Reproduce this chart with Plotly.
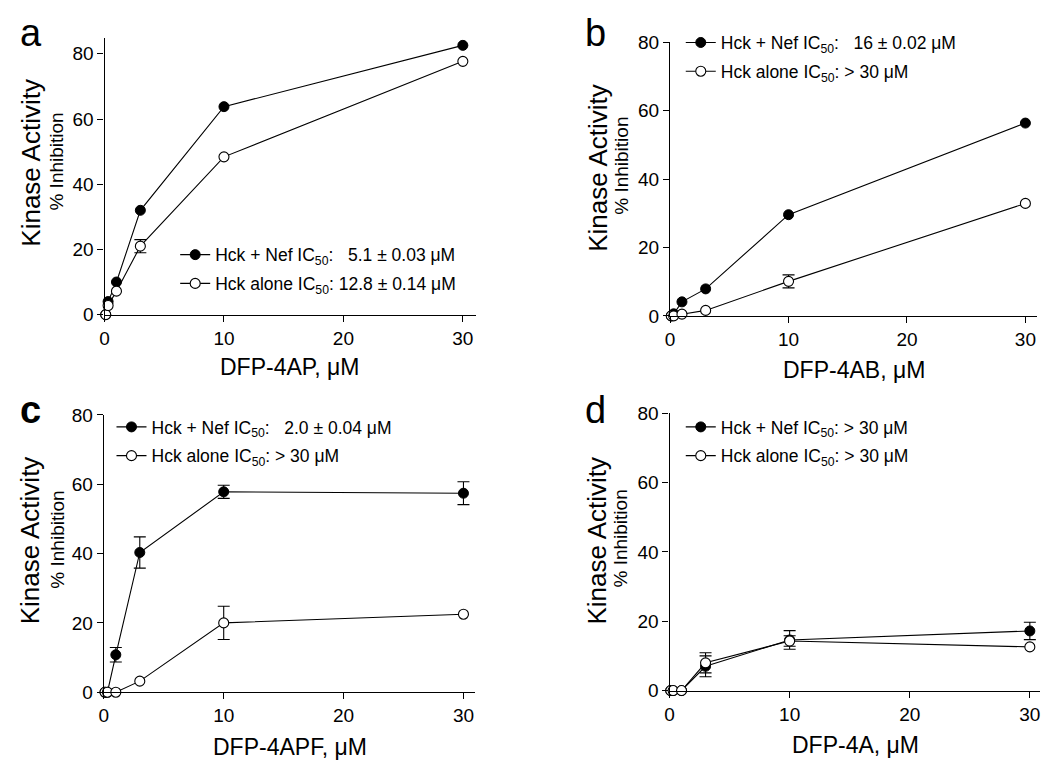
import plotly.graph_objects as go

# ---------------- data ----------------
conc = [0.1, 0.3, 1, 3, 10, 30]

nef_a = [0, 4.0, 10.0, 32.0, 63.8, 82.6]
nef_a_err = [0, 0, 0, 0, 0, 0]
alone_a = [0, 2.8, 7.2, 21.0, 48.4, 77.7]
alone_a_err = [0, 0, 0, 2.0, 0, 0]

nef_b = [0, 0.6, 4.1, 7.9, 29.6, 56.4]
nef_b_err = [0, 0, 0, 0, 0, 0]
alone_b = [0, 0, 0.5, 1.6, 10.1, 32.9]
alone_b_err = [0, 0, 0, 0, 1.9, 0]

nef_c = [0, 0, 10.8, 40.3, 57.8, 57.4]
nef_c_err = [0, 0, 2.1, 4.5, 1.9, 3.3]
alone_c = [0, 0, 0, 3.2, 20.0, 22.5]
alone_c_err = [0, 0, 0, 0, 4.8, 0]

nef_d = [0, 0, 0, 7.0, 14.6, 17.2]
nef_d_err = [0, 0, 0, 3.0, 2.7, 2.5]
alone_d = [0, 0, 0, 8.0, 14.3, 12.6]
alone_d_err = [0, 0, 0, 2.9, 1.5, 0]

letters = ["a", "b", "<b>c</b>", "d"]
x_titles = ["DFP-4AP, μM", "DFP-4AB, μM", "DFP-4APF, μM", "DFP-4A, μM"]
nb = "\u00a0"
nef_labels = [
    "Hck + Nef IC<sub>50</sub>:" + nb * 3 + "5.1 ± 0.03 μM",
    "Hck + Nef IC<sub>50</sub>:" + nb * 3 + "16 ± 0.02 μM",
    "Hck + Nef IC<sub>50</sub>:" + nb * 3 + "2.0 ± 0.04 μM",
    "Hck + Nef IC<sub>50</sub>: > 30 μM",
]
alone_labels = [
    "Hck alone IC<sub>50</sub>: 12.8 ± 0.14 μM",
    "Hck alone IC<sub>50</sub>: > 30 μM",
    "Hck alone IC<sub>50</sub>: > 30 μM",
    "Hck alone IC<sub>50</sub>: > 30 μM",
]
y_ticks = [0, 20, 40, 60, 80]
x_ticks = [0, 10, 20, 30]

nef = [nef_a, nef_b, nef_c, nef_d]
nef_err = [nef_a_err, nef_b_err, nef_c_err, nef_d_err]
alone = [alone_a, alone_b, alone_c, alone_d]
alone_err = [alone_a_err, alone_b_err, alone_c_err, alone_d_err]

# ---------------- layout geometry (pixels) ----------------
W, H = 1050, 784
FONT = "Liberation Sans, Arial, sans-serif"


def fx(px):
    return px / W


def fy(py):
    return 1 - py / H


# (left, right, bottom, top) in px, x max, y max
panels = [
    (100.0, 473.0, 313.0, 28.3, 31.08, 85),
    (668.3, 1036.7, 314.3, 33.3, 30.96, 80),
    (99.3, 472.7, 701.0, 416.0, 31.0, 80),
    (667.7, 1040.0, 699.3, 414.3, 30.85, 80),
]
# legend box anchor (left, top) in px
leg_pos = [(171, 233), (679, 15), (107, 410), (679, 410)]
letter_pos = [(26, 23.5), (593, 23.5), (26, 410.5), (593, 410.5)]
ytitle_pos = [((26, 157), (52, 156)), ((595, 162), (620, 160)),
              ((26, 545), (52.5, 544)), ((595, 545), (618, 543))]
xtitle_pos = [(286, 367), (853, 370), (286, 757), (855, 755)]

fig = go.Figure()
layout = dict(
    width=W, height=H, margin=dict(l=0, r=0, t=0, b=0),
    paper_bgcolor="white", plot_bgcolor="white",
    font=dict(family=FONT, color="black"),
    annotations=[],
)

for i in range(4):
    L, R, B, T, xmax, ymax = panels[i]
    sfx = "" if i == 0 else str(i + 1)
    xa, ya = "x" + sfx, "y" + sfx
    lg = "legend" + sfx

    # error bars (only where present), drawn beneath markers
    for ys, es in ((nef[i], nef_err[i]), (alone[i], alone_err[i])):
        idx = [k for k, e in enumerate(es) if e > 0]
        if idx:
            fig.add_trace(go.Scatter(
                x=[conc[k] for k in idx], y=[ys[k] for k in idx], mode="none",
                error_y=dict(type="data", array=[es[k] for k in idx], visible=True,
                             color="black", thickness=1.1, width=6),
                xaxis=xa, yaxis=ya, showlegend=False, cliponaxis=False,
                hoverinfo="skip",
            ))

    fig.add_trace(go.Scatter(
        x=conc, y=nef[i], mode="lines+markers", name=nef_labels[i],
        line=dict(color="black", width=1.1),
        marker=dict(symbol="circle", size=10, color="black",
                    line=dict(color="black", width=1)),
        xaxis=xa, yaxis=ya, legend=lg, legendgroup=f"n{i}", cliponaxis=False,
    ))
    fig.add_trace(go.Scatter(
        x=conc, y=alone[i], mode="lines+markers", name=alone_labels[i],
        line=dict(color="black", width=1.1),
        marker=dict(symbol="circle", size=10, color="white",
                    line=dict(color="black", width=1.1)),
        xaxis=xa, yaxis=ya, legend=lg, legendgroup=f"o{i}", cliponaxis=False,
    ))

    axis_common = dict(
        showline=True, linecolor="black", linewidth=1.3, showgrid=False,
        zeroline=False, ticks="outside", ticklen=6, tickwidth=1.2,
        tickcolor="black", tickfont=dict(size=19, family=FONT, color="black"),
    )
    layout["xaxis" + sfx] = dict(
        domain=[fx(L), fx(R)], range=[0, xmax], anchor=ya,
        tickmode="array", tickvals=x_ticks, **axis_common,
    )
    layout["yaxis" + sfx] = dict(
        domain=[fy(B), fy(T)], range=[0, ymax], anchor=xa,
        tickmode="array", tickvals=y_ticks, **axis_common,
    )

    gx, gy = leg_pos[i]
    layout[lg] = dict(
        x=fx(gx), y=fy(gy), xanchor="left", yanchor="top",
        xref="paper", yref="paper",
        bgcolor="rgba(0,0,0,0)", borderwidth=0,
        font=dict(size=17.5, family=FONT, color="black"),
        tracegroupgap=3, itemwidth=30,
    )

    lx, ly = letter_pos[i]
    layout["annotations"].append(dict(
        text=letters[i], x=fx(lx), y=fy(ly), xref="paper", yref="paper",
        xanchor="center", yanchor="middle", showarrow=False,
        font=dict(size=38, family=FONT, color="black"),
    ))
    (k1, k2) = ytitle_pos[i]
    layout["annotations"].append(dict(
        text="Kinase Activity", x=fx(k1[0]), y=fy(k1[1]), xref="paper", yref="paper",
        xanchor="center", yanchor="middle", showarrow=False, textangle=-90,
        font=dict(size=26, family=FONT, color="black"),
    ))
    layout["annotations"].append(dict(
        text="% Inhibition", x=fx(k2[0]), y=fy(k2[1]), xref="paper", yref="paper",
        xanchor="center", yanchor="middle", showarrow=False, textangle=-90,
        font=dict(size=19, family=FONT, color="black"),
    ))
    tx, ty = xtitle_pos[i]
    layout["annotations"].append(dict(
        text=x_titles[i], x=fx(tx), y=fy(ty), xref="paper", yref="paper",
        xanchor="center", yanchor="middle", showarrow=False,
        font=dict(size=23, family=FONT, color="black"),
    ))

fig.update_layout(**layout)
fig.write_html(
    "out.html",
    config={"displayModeBar": False},
    post_script="document.body.style.margin='0';document.body.style.padding='0';"
                "document.documentElement.style.overflow='hidden';",
)
